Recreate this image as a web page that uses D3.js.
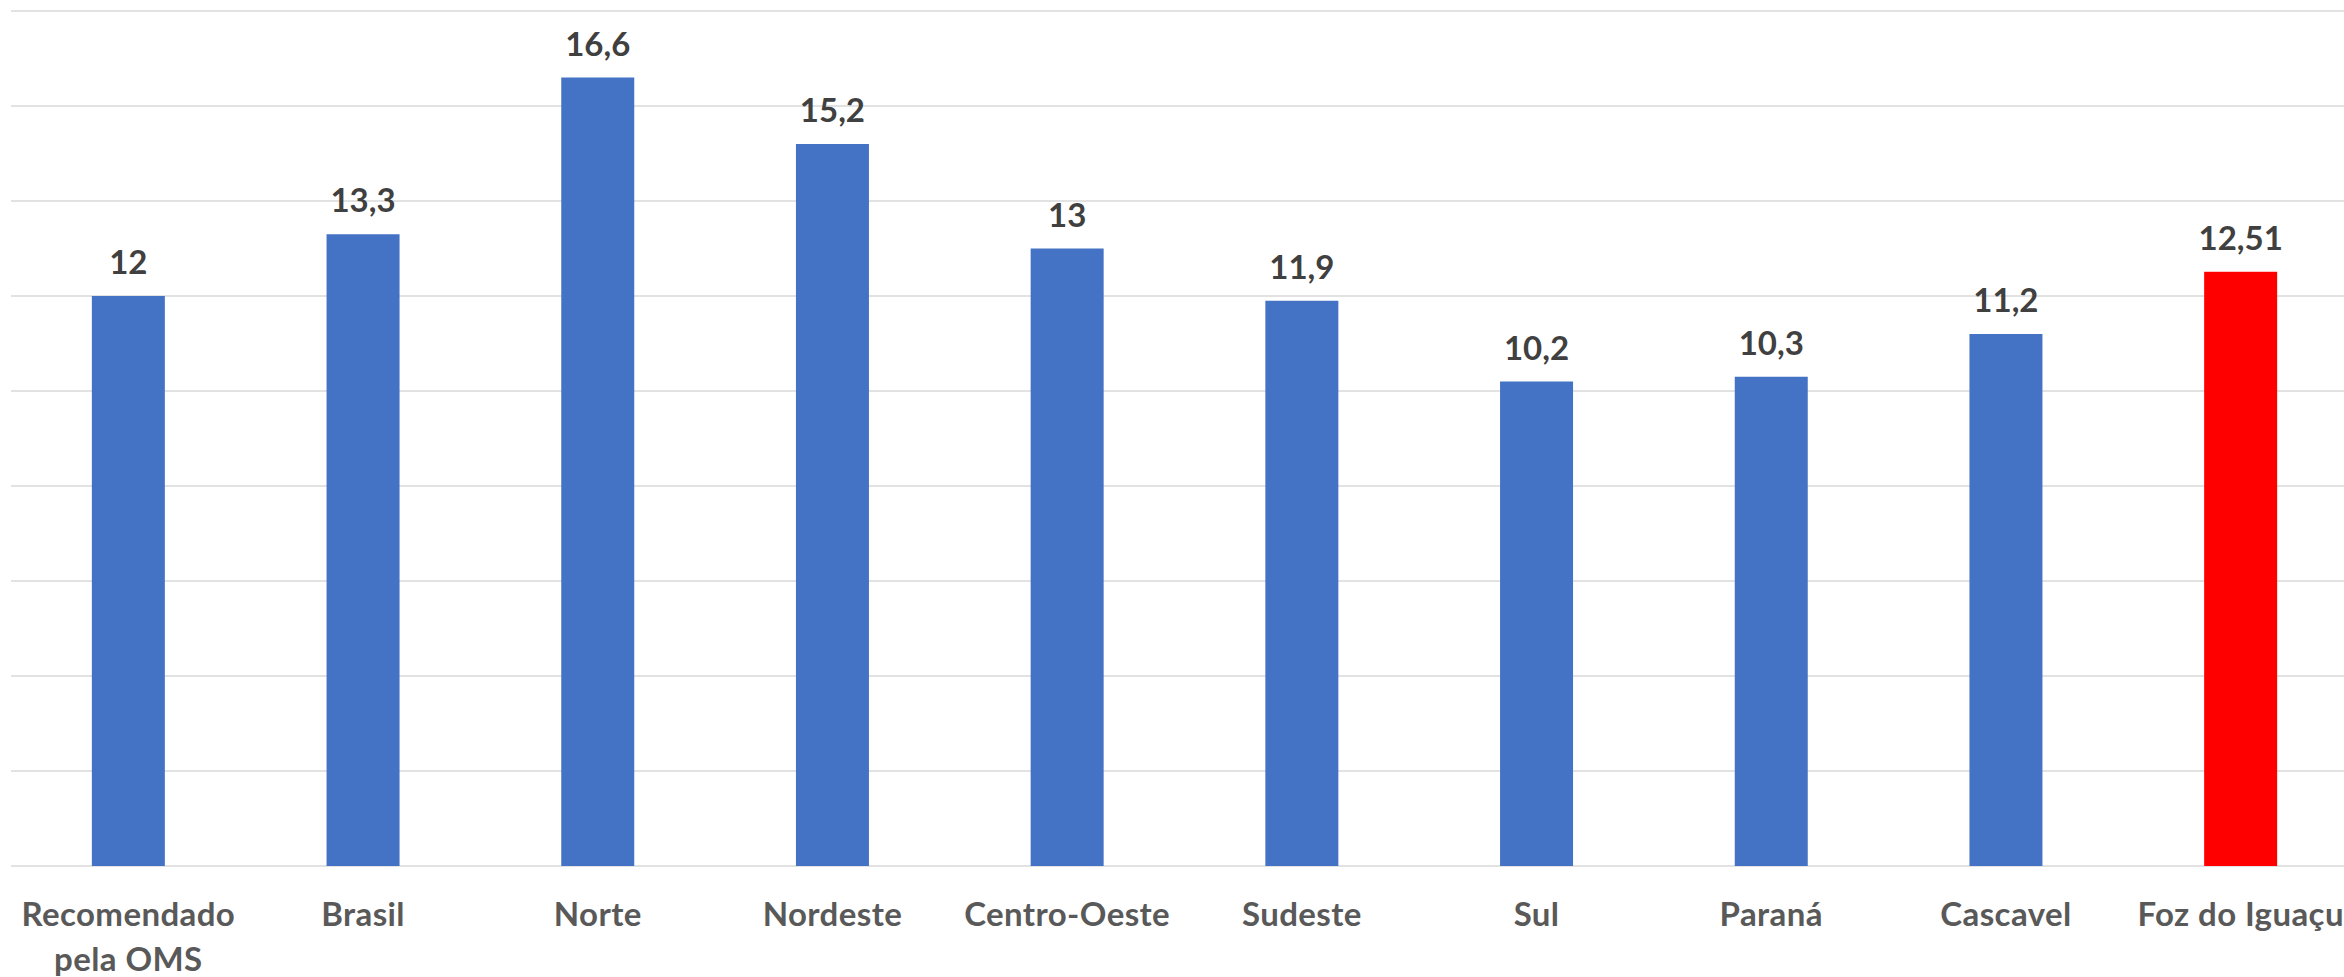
<!DOCTYPE html>
<html>
<head>
<meta charset="utf-8">
<script src="https://cdn.jsdelivr.net/npm/d3@7"></script>
<style>
  html, body { margin: 0; padding: 0; background: #ffffff; overflow: hidden; }
  svg { display: block; }
</style>
</head>
<body>
<svg id="chart" width="2344" height="977"></svg>
<script>
const categories = [
  ["Recomendado", "pela OMS"],
  ["Brasil"],
  ["Norte"],
  ["Nordeste"],
  ["Centro-Oeste"],
  ["Sudeste"],
  ["Sul"],
  ["Paraná"],
  ["Cascavel"],
  ["Foz do Iguaçu"]
];
const values = [12, 13.3, 16.6, 15.2, 13, 11.9, 10.2, 10.3, 11.2, 12.51];
const barColors = ["#4472C4", "#4472C4", "#4472C4", "#4472C4", "#4472C4", "#4472C4", "#4472C4", "#4472C4", "#4472C4", "#FF0000"];
const yTicks = [0, 2, 4, 6, 8, 10, 12, 14, 16, 18];

const svg = d3.select("#chart");
const plotLeft = 11, plotRight = 2358, plotTop = 11, plotBottom = 866;

const keys = categories.map(c => c.join(" "));
const x = d3.scaleBand().domain(keys).range([plotLeft, plotRight]).paddingInner(0.689).paddingOuter(0.3445);
const y = d3.scaleLinear().domain([0, 18]).range([plotBottom, plotTop]);

const locale = d3.formatLocale({decimal: ",", thousands: ".", grouping: [3], currency: ["R$", ""]});
const fmt = v => locale.format(",")(v);

// gridlines
svg.append("g").selectAll("line").data(yTicks).join("line")
  .attr("x1", plotLeft).attr("x2", 2344)
  .attr("y1", d => y(d)).attr("y2", d => y(d))
  .attr("stroke", "#D9D9D9").attr("stroke-width", d => d === 0 ? 1.6 : 1.3);

// bars
svg.append("g").selectAll("rect").data(values).join("rect")
  .attr("x", (d, i) => x(keys[i]))
  .attr("width", x.bandwidth())
  .attr("y", d => y(d))
  .attr("height", d => y(0) - y(d))
  .attr("fill", (d, i) => barColors[i]);

// value labels
svg.append("g").selectAll("text").data(values).join("text")
  .attr("x", (d, i) => x(keys[i]) + x.bandwidth() / 2)
  .attr("y", d => y(d) - 22)
  .attr("text-anchor", "middle")
  .attr("font-family", "Lato, 'Open Sans', sans-serif")
  .attr("font-weight", "bold")
  .attr("font-size", 33)
  .attr("fill", "#404040")
  .text(d => fmt(d));

// category labels
const cat = svg.append("g").selectAll("text").data(categories).join("text")
  .attr("x", (d, i) => x(keys[i]) + x.bandwidth() / 2)
  .attr("y", 926)
  .attr("text-anchor", "middle")
  .attr("font-family", "Lato, 'Open Sans', sans-serif")
  .attr("font-weight", "bold")
  .attr("font-size", 33)
  .attr("letter-spacing", 0.4)
  .attr("fill", "#595959");
cat.selectAll("tspan").data((d, i) => d.map(t => ({t, i}))).join("tspan")
  .attr("x", d => x(keys[d.i]) + x.bandwidth() / 2)
  .attr("dy", (d, j) => j === 0 ? 0 : 45)
  .text(d => d.t);
</script>
</body>
</html>
